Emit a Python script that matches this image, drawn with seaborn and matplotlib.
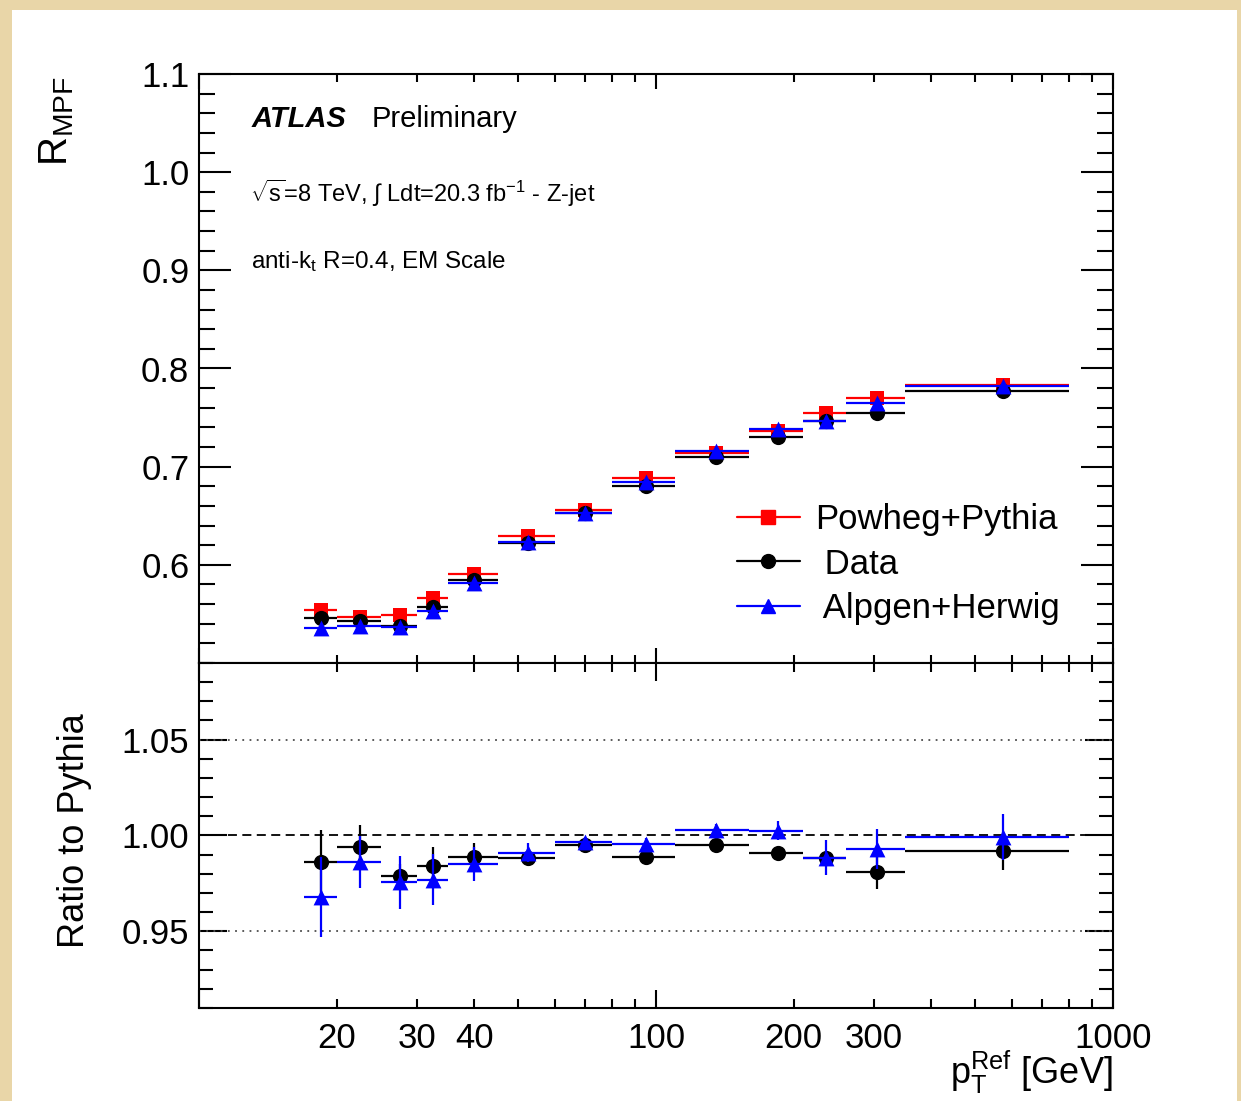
import numpy as np
import pandas as pd
import matplotlib
matplotlib.use("Agg")
import matplotlib.pyplot as plt
import seaborn as sns
from matplotlib.ticker import FixedLocator, FuncFormatter, NullFormatter, MultipleLocator
from matplotlib.lines import Line2D
from matplotlib.patches import Rectangle

# ---------------- data ----------------
bin_edges = [17, 20, 25, 30, 35, 45, 60, 80, 110, 160, 210, 260, 350, 800]

powheg_pythia = [0.554, 0.547, 0.549, 0.566, 0.591, 0.629, 0.656, 0.688, 0.714, 0.736, 0.755, 0.770, 0.783]
data_rmpf     = [0.546, 0.543, 0.538, 0.557, 0.585, 0.622, 0.653, 0.680, 0.710, 0.730, 0.747, 0.755, 0.777]
alpgen_herwig = [0.536, 0.538, 0.537, 0.553, 0.582, 0.623, 0.653, 0.684, 0.716, 0.738, 0.747, 0.765, 0.782]

ratio_data       = [0.986, 0.994, 0.979, 0.984, 0.989, 0.9885, 0.995, 0.989, 0.995, 0.991, 0.9885, 0.981, 0.992]
ratio_data_err   = [0.017, 0.0115, 0.006, 0.010, 0.007, 0.004, 0.002, 0.003, 0.002, 0.003, 0.003, 0.009, 0.010]
ratio_alpgen     = [0.968, 0.986, 0.9755, 0.977, 0.985, 0.991, 0.9964, 0.9958, 1.003, 1.0026, 0.9885, 0.993, 0.999]
ratio_alpgen_err = [0.021, 0.0135, 0.014, 0.0135, 0.009, 0.005, 0.003, 0.003, 0.003, 0.005, 0.009, 0.0105, 0.012]

series_names = ["Powheg+Pythia", "Data", "Alpgen+Herwig"]
x_tick_labels = {20: "20", 30: "30", 40: "40", 100: "100", 200: "200", 300: "300", 1000: "1000"}
top_yticks = [0.6, 0.7, 0.8, 0.9, 1.0, 1.1]
ratio_yticks = [0.95, 1.00, 1.05]

# ---------------- style ----------------
sns.set_theme(style="ticks")
plt.rcParams["font.family"] = ["Liberation Sans", "DejaVu Sans"]
plt.rcParams["mathtext.fontset"] = "custom"
plt.rcParams["mathtext.rm"] = "Liberation Sans"
plt.rcParams["mathtext.it"] = "Liberation Sans:italic"
plt.rcParams["mathtext.bf"] = "Liberation Sans:bold"
plt.rcParams["mathtext.sf"] = "Liberation Sans"
plt.rcParams["axes.grid"] = False
plt.rcParams["text.color"] = "black"
plt.rcParams["axes.labelcolor"] = "black"
plt.rcParams["xtick.color"] = "black"
plt.rcParams["ytick.color"] = "black"

W, H = 1241, 1101
fig = plt.figure(figsize=(W / 100, H / 100), dpi=100)
fig.patch.set_facecolor("#e9d6a8")
fig.add_artist(Rectangle((12 / W, 0), (1237 - 12) / W, 1 - 10 / H, transform=fig.transFigure,
                         facecolor="white", edgecolor="none", zorder=-10))

L, R = 199, 1113
ax_top = fig.add_axes([L / W, 1 - 663 / H, (R - L) / W, (663 - 74) / H])
ax_bot = fig.add_axes([L / W, 1 - 1008 / H, (R - L) / W, (1008 - 663) / H])

edges = np.array(bin_edges, dtype=float)
lo, hi = edges[:-1], edges[1:]
centre = 0.5 * (lo + hi)

top_df = pd.DataFrame({
    "pt": np.tile(centre, 3), "lo": np.tile(lo, 3), "hi": np.tile(hi, 3),
    "value": np.concatenate([powheg_pythia, data_rmpf, alpgen_herwig]),
    "sample": np.repeat(series_names, len(centre)),
})
ratio_df = pd.DataFrame({
    "pt": np.tile(centre, 2), "lo": np.tile(lo, 2), "hi": np.tile(hi, 2),
    "value": np.concatenate([ratio_data, ratio_alpgen]),
    "err": np.concatenate([ratio_data_err, ratio_alpgen_err]),
    "sample": np.repeat(["Data", "Alpgen+Herwig"], len(centre)),
})

colors = {"Powheg+Pythia": "#ff0000", "Data": "#000000", "Alpgen+Herwig": "#0000ff"}
markers = {"Powheg+Pythia": "s", "Data": "o", "Alpgen+Herwig": "^"}
msize = {"Powheg+Pythia": 110, "Data": 120, "Alpgen+Herwig": 130}

for ax in (ax_top, ax_bot):
    ax.set_xscale("log")
    ax.set_xlim(10, 1000)
    ax.set_facecolor("white")

def draw(ax, df, name, z, with_err):
    d = df[df["sample"] == name]
    c = colors[name]
    ax.hlines(d["value"], d["lo"], d["hi"], colors=c, lw=1.6, zorder=z)
    if with_err:
        ax.vlines(d["pt"], d["value"] - d["err"], d["value"] + d["err"], colors=c, lw=1.6, zorder=z)
    sns.scatterplot(data=d, x="pt", y="value", ax=ax, color=c, marker=markers[name],
                    s=msize[name], edgecolor=c, linewidth=0, zorder=z + 0.5, legend=False)

for i, name in enumerate(series_names):
    draw(ax_top, top_df, name, 3 + i, False)
for i, name in enumerate(["Data", "Alpgen+Herwig"]):
    draw(ax_bot, ratio_df, name, 4 + i, True)

ax_top.set_ylim(0.5, 1.1)
ax_bot.set_ylim(0.91, 1.09)

ax_bot.axhline(1.0, color="black", ls=(0, (5, 3)), lw=1.3, zorder=2)
for yv in (0.95, 1.05):
    ax_bot.axhline(yv, color="0.3", ls=(0, (1, 3)), lw=1.3, zorder=2)

major_x = [10, 100, 1000]
minor_x = [20, 30, 40, 50, 60, 70, 80, 90, 200, 300, 400, 500, 600, 700, 800, 900]
fmt = FuncFormatter(lambda v, p: x_tick_labels.get(int(round(v)), ""))
for ax in (ax_top, ax_bot):
    ax.xaxis.set_major_locator(FixedLocator(major_x))
    ax.xaxis.set_minor_locator(FixedLocator(minor_x))
    ax.set_xlabel("")
    ax.set_ylabel("")
    for sp in ax.spines.values():
        sp.set_visible(True)
        sp.set_linewidth(1.5)
        sp.set_color("black")
    ax.tick_params(which="both", direction="in", top=True, right=True, bottom=True, left=True,
                   width=1.5, color="black", labelsize=25, labelcolor="black")

ax_top.xaxis.set_major_formatter(NullFormatter())
ax_top.xaxis.set_minor_formatter(NullFormatter())
ax_bot.xaxis.set_major_formatter(fmt)
ax_bot.xaxis.set_minor_formatter(fmt)

ax_top.yaxis.set_major_locator(FixedLocator(top_yticks))
ax_top.yaxis.set_minor_locator(MultipleLocator(0.02))
ax_top.yaxis.set_major_formatter(FuncFormatter(lambda v, p: f"{v:.1f}"))
ax_bot.yaxis.set_major_locator(FixedLocator(ratio_yticks))
ax_bot.yaxis.set_minor_locator(MultipleLocator(0.01))
ax_bot.yaxis.set_major_formatter(FuncFormatter(lambda v, p: f"{v:.2f}"))

ax_top.tick_params(axis="x", which="major", length=11)
ax_top.tick_params(axis="x", which="minor", length=5.5)
ax_top.tick_params(axis="y", which="major", length=23, pad=7)
ax_top.tick_params(axis="y", which="minor", length=11.5)
ax_bot.tick_params(axis="x", which="major", length=13, pad=10)
ax_bot.tick_params(axis="x", which="minor", length=6.5, pad=10)
ax_bot.tick_params(axis="y", which="major", length=20, pad=7)
ax_bot.tick_params(axis="y", which="minor", length=10)

# axis titles
fig.text(57 / W, 1 - 76 / H, r"$\mathregular{R_{MPF}}$", rotation=90, fontsize=29, ha="center", va="top")
fig.text(74 / W, 1 - 713 / H, "Ratio to Pythia", rotation=90, fontsize=26, ha="center", va="top")
fig.text(1113 / W, 1 - 1072 / H, r"$\mathregular{p_{T}^{Ref}}$ [GeV]", fontsize=26, ha="right", va="center")

# annotations
fig.text(252 / W, 1 - 119 / H, "ATLAS", fontsize=21, fontweight="bold", fontstyle="italic", ha="left", va="center")
fig.text(372 / W, 1 - 119 / H, "Preliminary", fontsize=21, ha="left", va="center")
fig.text(250 / W, 1 - 193 / H, r"$\sqrt{\mathregular{s}}$=8 TeV, $\int$ Ldt=20.3 fb$^{\mathregular{-1}}$ - Z-jet",
         fontsize=17, ha="left", va="center")
fig.text(251 / W, 1 - 262 / H, r"anti-k$_{\mathregular{t}}$ R=0.4, EM Scale", fontsize=17.5, ha="left", va="center")

# legend
handles = [Line2D([0], [0], color=colors[n], marker=markers[n], markersize=10, lw=1.6) for n in series_names]
labels = ["Powheg+Pythia", " Data", " Alpgen+Herwig"]
leg = ax_top.legend(handles, labels, loc="center left", bbox_to_anchor=(737 / W, 1 - 564 / H),
                    bbox_transform=fig.transFigure, frameon=False, fontsize=25, handlelength=1.8,
                    handletextpad=0.45, labelspacing=0.33, borderpad=0, borderaxespad=0)
for t in leg.get_texts():
    t.set_color("black")

fig.savefig("out.png", dpi=100, facecolor=fig.get_facecolor())
